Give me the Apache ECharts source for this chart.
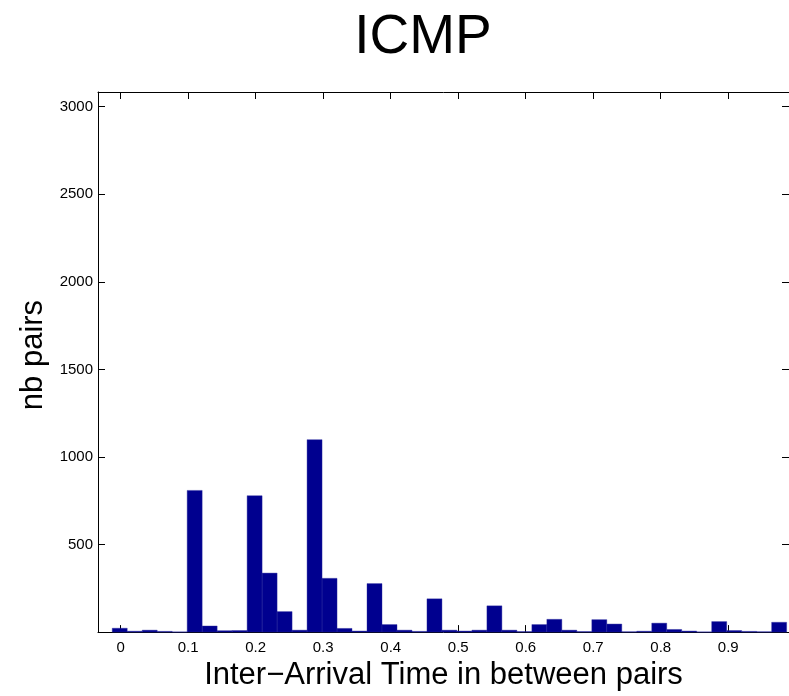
<!DOCTYPE html>
<html>
<head>
<meta charset="utf-8">
<script src="https://cdn.jsdelivr.net/npm/echarts@6/dist/echarts.min.js"></script>
<style>
html,body{margin:0;padding:0;background:#fff;overflow:hidden;}
#chart{width:789px;height:696px;}
</style>
</head>
<body>
<div id="chart"></div>
<script>
// Histogram: bin layout (data units) and counts
const binStart = -0.0125;
const binWidth = 0.0222;
const counts = [
  22, 5, 11, 4, 1, 809, 35, 8, 9, 779,
  337, 117, 11, 1099, 307, 21, 6, 277, 43, 11,
  4, 190, 11, 6, 11, 150, 11, 3, 43, 73,
  11, 3, 71, 46, 2, 5, 51, 15, 6, 1,
  60, 9, 4, 2, 56
];
const xTicks = [0, 0.1, 0.2, 0.3, 0.4, 0.5, 0.6, 0.7, 0.8, 0.9];
const yTickValues = [0, 500, 1000, 1500, 2000, 2500, 3000];
const yLabelValues = [500, 1000, 1500, 2000, 2500, 3000];
const xMin = -0.0336, xMax = 0.99;
const yMin = 0, yMax = 3084;

const histData = counts.map((c, k) => [binStart + k * binWidth, binStart + (k + 1) * binWidth, c]);

const FONT = 'Liberation Sans, Arial, Helvetica, sans-serif';
const chart = echarts.init(document.getElementById('chart'), null, {renderer: 'canvas'});

const lineStyle = {color: '#000', width: 1};
function xAxisCfg(pos, labels) {
  return {
    type: 'value', position: pos, min: xMin, max: xMax,
    axisLine: {show: true, onZero: false, lineStyle},
    axisTick: {show: true, inside: true, length: 7, lineStyle, customValues: xTicks},
    axisLabel: {show: labels, customValues: xTicks, color: '#000', fontFamily: FONT, fontSize: 15, margin: 8,
      formatter: v => String(v)},
    splitLine: {show: false}
  };
}
function yAxisCfg(pos, labels) {
  return {
    type: 'value', position: pos, min: yMin, max: yMax,
    axisLine: {show: true, onZero: false, lineStyle},
    axisTick: {show: true, inside: true, length: 7, lineStyle, customValues: yTickValues},
    axisLabel: {show: labels, customValues: yLabelValues, color: '#000', fontFamily: FONT, fontSize: 15, margin: 5,
      formatter: v => String(v)},
    splitLine: {show: false}
  };
}

const xb = xAxisCfg('bottom', true);
xb.name = 'Inter\u2212Arrival Time in between pairs';
xb.nameLocation = 'middle';
xb.nameGap = 22;
xb.nameTextStyle = {color: '#000', fontFamily: FONT, fontSize: 31};
const yl = yAxisCfg('left', true);
yl.name = 'nb pairs';
yl.nameLocation = 'middle';
yl.nameGap = 46;
yl.nameTextStyle = {color: '#000', fontFamily: FONT, fontSize: 31, padding: [0, 0, 0, 14]};

chart.setOption({
  animation: false,
  backgroundColor: '#fff',
  title: {
    text: 'ICMP', left: 418, top: 5, textAlign: 'center',
    textStyle: {color: '#000', fontFamily: FONT, fontSize: 55, fontWeight: 'normal'}
  },
  grid: {left: 98, right: 0, top: 92, height: 549, containLabel: false},
  xAxis: [xb, xAxisCfg('top', false)],
  yAxis: [yl, yAxisCfg('right', false)],
  series: [{
    type: 'custom',
    xAxisIndex: 0, yAxisIndex: 0,
    data: histData,
    encode: {x: [0, 1], y: 2},
    renderItem: function (params, api) {
      const p0 = api.coord([api.value(0), api.value(2)]);
      const p1 = api.coord([api.value(1), 0]);
      return {
        type: 'rect',
        shape: {x: p0[0], y: p0[1], width: p1[0] - p0[0], height: p1[1] - p0[1]},
        style: {fill: '#00008F', stroke: '#2a2aa0', lineWidth: 0.4}
      };
    }
  }]
});
</script>
</body>
</html>
